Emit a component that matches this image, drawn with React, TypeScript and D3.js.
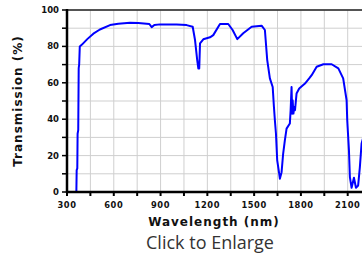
import * as d3 from "d3";

// transmission curve
const wavelength = [
  360, 362, 366, 368, 372, 375, 378, 382, 396, 430, 469, 511, 576, 629, 704, 757, 828, 843, 860, 896,
  1003, 1067, 1106, 1121, 1135, 1142, 1148, 1153, 1174, 1217, 1238, 1281, 1334, 1362, 1392, 1430, 1484,
  1548, 1569, 1584, 1601, 1619, 1627, 1633, 1640, 1648, 1661, 1665, 1676, 1686, 1697, 1708, 1729, 1734,
  1740, 1744, 1747, 1752, 1757, 1762, 1772, 1789, 1826, 1853, 1869, 1901, 1944, 1997, 2040, 2071, 2093,
  2097, 2108, 2114, 2125, 2140, 2153, 2167, 2178, 2189, 2200,
];
const transmission = [
  0, 12, 13, 32, 34, 68, 70, 80, 81, 84, 87, 89.3, 91.7, 92.5, 93, 92.8, 92.3, 90.6, 91.8, 92.1,
  92.1, 91.7, 90.8, 83.5, 72.5, 67.9, 67.9, 81.7, 83.9, 85, 86.2, 92.3, 92.3, 89, 84, 87.2, 90.8,
  91.4, 89, 72.5, 62.4, 57.7, 46.7, 39.4, 32, 17.4, 10, 7.3, 10.9, 21, 28.4, 34.8, 37.6, 44.9,
  57.7, 43, 50.4, 43.1, 46.7, 44.9, 54.1, 56.9, 59.6, 62.4, 64.2, 68.8, 70.2, 70.2, 67.9, 62.4, 50.4,
  39.4, 22.9, 8.2, 2.3, 7.8, 2.3, 3.6, 13.7, 26.6, 30,
];
const xTickLabels = [300, 600, 900, 1200, 1500, 1800, 2100];
const yTickLabels = [0, 20, 40, 60, 80, 100];

const W = 362, H = 256;
const m = { top: 10, left: 67, bottom: 192 };

export default function App() {
  const x = d3.scaleLinear().domain([300, 2100]).range([m.left, 347.7]);
  const y = d3.scaleLinear().domain([0, 100]).range([m.bottom, m.top]);

  const pts = wavelength.map((w, i) => [w, transmission[i]] as [number, number]);
  const line = d3.line<[number, number]>().x(d => x(d[0])).y(d => y(d[1]));

  const xGrid = d3.range(450, 2300, 150);
  const yGrid = d3.range(10, 101, 10);
  const xMinor = d3.range(300, 2250, 150);

  const font = "'DejaVu Sans', Verdana, sans-serif";

  return (
    <svg width={W} height={H} style={{ position: "absolute", left: 0, top: 0, background: "#fff" }}>
      <defs>
        <clipPath id="plot">
          <rect x={m.left} y={m.top - 2} width={W - m.left} height={m.bottom - m.top + 2} />
        </clipPath>
      </defs>

      {/* grid */}
      {xGrid.map(v => (
        <line key={"xg" + v} x1={x(v)} x2={x(v)} y1={m.top} y2={m.bottom} stroke="#cfcfcf" strokeWidth={1} />
      ))}
      {yGrid.map(v => (
        <line key={"yg" + v} x1={m.left} x2={W} y1={y(v)} y2={y(v)} stroke="#cfcfcf" strokeWidth={1} />
      ))}

      {/* frame top */}
      <line x1={m.left} x2={W} y1={m.top} y2={m.top} stroke="#222" strokeWidth={1.5} />

      {/* curve */}
      <path d={line(pts) ?? ""} fill="none" stroke="#0000ff" strokeWidth={2} strokeLinejoin="round" clipPath="url(#plot)" />

      {/* axes */}
      <line x1={m.left} x2={m.left} y1={m.top - 1} y2={m.bottom + 1} stroke="#000" strokeWidth={2.5} />
      <line x1={m.left - 1} x2={W} y1={m.bottom} y2={m.bottom} stroke="#000" strokeWidth={2.5} />

      {/* tick marks */}
      {yGrid.concat([0]).map(v => (
        <line key={"yt" + v} x1={m.left - 5} x2={m.left} y1={y(v)} y2={y(v)} stroke="#000" strokeWidth={1.5} />
      ))}
      {xMinor.map(v => (
        <line key={"xt" + v} x1={x(v)} x2={x(v)} y1={m.bottom} y2={m.bottom + 4} stroke="#000" strokeWidth={2} />
      ))}

      {/* tick labels */}
      {yTickLabels.map(v => (
        <text key={"yl" + v} x={m.left - 8} y={y(v)} dy="0.35em" textAnchor="end"
          fontFamily={font} fontWeight="bold" fontSize={8.5} fill="#111">
          {v}
        </text>
      ))}
      {xTickLabels.map(v => (
        <text key={"xl" + v} x={x(v)} y={m.bottom + 16} textAnchor="middle"
          fontFamily={font} fontWeight="bold" fontSize={8.3} letterSpacing={0.6} fill="#111">
          {v}
        </text>
      ))}

      {/* axis titles */}
      <text x={214} y={226} textAnchor="middle" fontFamily={font} fontWeight="bold" fontSize={12}
        letterSpacing={1} fill="#111">
        Wavelength (nm)
      </text>
      <text transform="translate(22,101) rotate(-90)" textAnchor="middle" fontFamily={font}
        fontWeight="bold" fontSize={12} letterSpacing={1} fill="#111">
        Transmission (%)
      </text>

      <text x={210} y={249} textAnchor="middle" fontFamily="'Open Sans', sans-serif" fontSize={18}
        fill="#333">
        Click to Enlarge
      </text>
    </svg>
  );
}
